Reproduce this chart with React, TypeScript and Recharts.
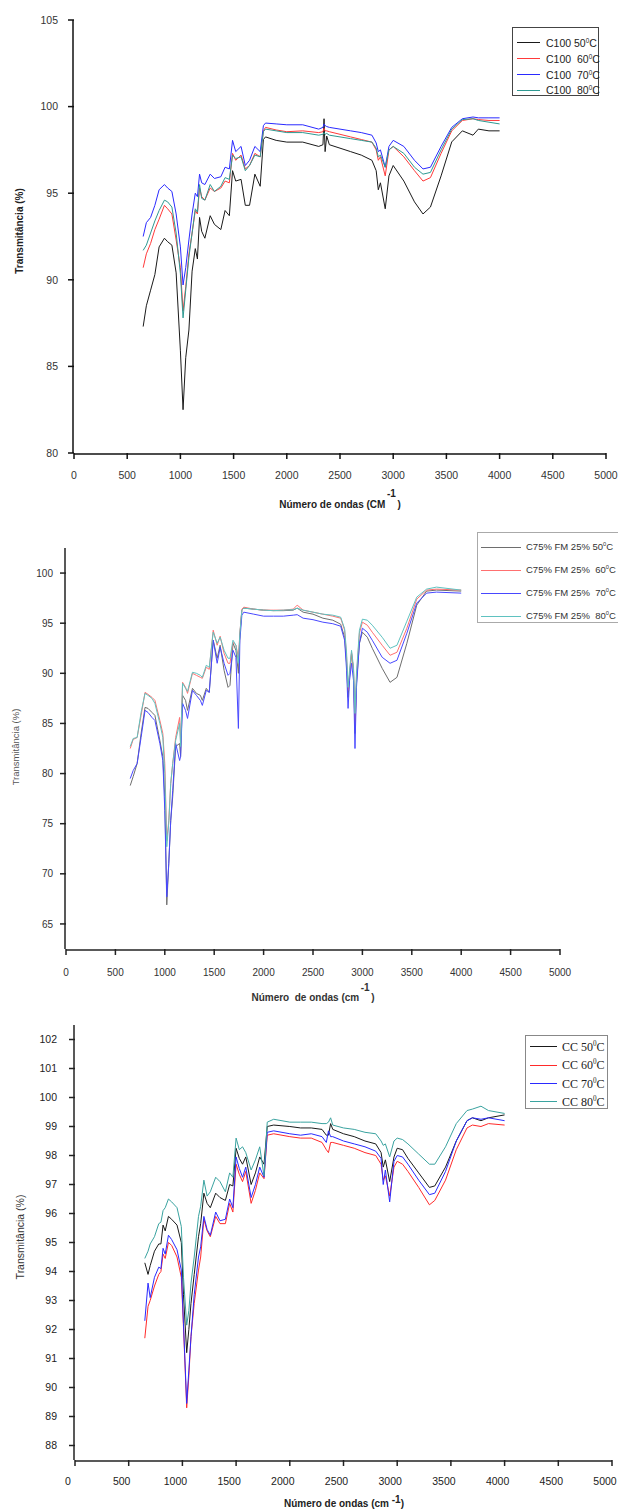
import React from 'react';
import { LineChart, Line, XAxis, YAxis, Legend } from 'recharts';

// wavenumber axis (shared by the three panels)
const xMajor = [0, 500, 1000, 1500, 2000, 2500, 3000, 3500, 4000, 4500, 5000];
const xMinor = [0, 250, 500, 750, 1000, 1250, 1500, 1750, 2000, 2250, 2500, 2750, 3000, 3250, 3500, 3750, 4000, 4250, 4500, 4750, 5000];

// ---- panel 1 : C100 ----
const y1Major = [80, 85, 90, 95, 100, 105];
const y1Minor = [80, 82.5, 85, 87.5, 90, 92.5, 95, 97.5, 100, 102.5, 105];
const c1Names = ['C100 50', 'C100  60', 'C100  70', 'C100  80'];
const c1Waves = [650, 680, 720, 760, 800, 850, 880, 920, 960, 1000, 1025, 1050, 1080, 1110, 1140, 1160, 1180, 1200, 1230, 1280, 1320, 1380, 1420, 1460, 1490, 1520, 1570, 1610, 1650, 1700, 1750, 1780, 1800, 1900, 2000, 2150, 2300, 2340, 2350, 2360, 2375, 2400, 2500, 2600, 2700, 2800, 2840, 2860, 2880, 2925, 2960, 3000, 3100, 3200, 3280, 3350, 3450, 3550, 3650, 3750, 3800, 3900, 4000];
const c1T50 = [87.3, 88.5, 89.4, 90.3, 91.9, 92.4, 92.2, 92.0, 90.4, 85.9, 82.5, 85.5, 87.1, 90.5, 91.8, 91.2, 93.6, 92.8, 92.4, 93.7, 93.2, 92.9, 94.0, 93.7, 96.3, 95.7, 95.8, 94.3, 94.3, 96.1, 95.4, 98.1, 98.25, 98.05, 97.95, 97.95, 97.7, 97.8, 99.3, 97.4, 98.3, 97.8, 97.6, 97.4, 97.2, 96.9, 96.3, 95.2, 95.6, 94.1, 96.0, 96.6, 95.7, 94.5, 93.8, 94.2, 96.0, 97.96, 98.6, 98.35, 98.7, 98.6, 98.6];
const c1T60 = [90.7, 91.5, 92.1, 92.9, 93.5, 94.3, 94.1, 93.8, 92.3, 90.7, 88.2, 89.6, 91.5, 92.7, 94.0, 93.8, 95.3, 94.8, 94.6, 95.3, 95.1, 95.3, 95.7, 95.6, 97.3, 96.9, 97.2, 96.4, 96.6, 97.3, 97.1, 98.6, 98.8, 98.65, 98.55, 98.6, 98.5, 98.55, 98.75, 98.6, 98.6, 98.55, 98.4, 98.25, 98.1, 97.95, 97.5, 96.9, 97.1, 96.0, 97.5, 97.7, 97.1, 96.3, 95.7, 95.9, 97.3, 98.6, 99.2, 99.3, 99.25, 99.2, 99.2];
const c1T70 = [92.5, 93.3, 93.6, 94.3, 95.2, 95.5, 95.3, 95.1, 93.8, 91.9, 89.7, 90.7, 92.3, 93.8, 95.0, 94.8, 96.1, 95.6, 95.5, 96.1, 95.85, 95.95, 96.5, 96.4, 98.05, 97.4, 97.7, 96.6, 96.9, 97.7, 97.4, 98.9, 99.05, 99.0, 98.95, 98.95, 98.7, 98.8, 99.0, 98.9, 98.85, 98.8, 98.7, 98.6, 98.5, 98.35, 97.9, 97.4, 97.5, 96.5, 97.7, 98.05, 97.7, 96.9, 96.4, 96.5, 97.7, 98.8, 99.3, 99.4, 99.35, 99.35, 99.35];
const c1T80 = [91.7, 92.0, 92.7, 93.4, 94.0, 94.6, 94.5, 94.2, 92.7, 90.35, 87.8, 89.4, 91.3, 92.7, 94.1, 93.9, 95.5, 94.7, 94.6, 95.5, 95.1, 95.4, 95.9, 95.8, 97.2, 97.0, 97.1, 96.3, 96.6, 97.2, 97.1, 98.55, 98.7, 98.6, 98.5, 98.5, 98.35, 98.4, 98.5, 98.4, 98.45, 98.35, 98.25, 98.15, 98.05, 97.95, 97.6, 97.1, 97.2, 96.5, 97.5, 97.7, 97.3, 96.5, 96.1, 96.2, 97.5, 98.7, 99.25, 99.3, 99.2, 99.1, 99.0];

// ---- panel 2 : C75% FM 25% ----
const y2Major = [65, 70, 75, 80, 85, 90, 95, 100];
const y2Minor = [62.5, 65, 67.5, 70, 72.5, 75, 77.5, 80, 82.5, 85, 87.5, 90, 92.5, 95, 97.5, 100, 102.5];
const c2Names = ['C75% FM 25% 50', 'C75% FM 25%  60', 'C75% FM 25%  70', 'C75% FM 25%  80'];
const c2Waves = [650, 680, 720, 760, 800, 830, 870, 900, 950, 980, 1000, 1020, 1040, 1060, 1080, 1110, 1150, 1160, 1180, 1210, 1230, 1280, 1320, 1360, 1380, 1420, 1450, 1490, 1530, 1560, 1600, 1640, 1660, 1690, 1720, 1745, 1760, 1780, 1800, 1900, 2000, 2100, 2200, 2300, 2340, 2400, 2500, 2600, 2700, 2780, 2820, 2840, 2855, 2870, 2890, 2910, 2925, 2940, 2970, 3000, 3050, 3100, 3200, 3280, 3350, 3450, 3550, 3650, 3750, 4000];
const c2T50 = [78.8, 79.7, 81.0, 84.0, 86.6, 86.5, 86.1, 85.8, 83.3, 81.7, 77.7, 66.9, 71.0, 75.3, 77.7, 82.7, 83.0, 81.7, 87.8, 87.3, 86.3, 88.5, 88.0, 87.8, 87.3, 88.5, 88.1, 93.3, 91.5, 92.8, 90.3, 88.6, 88.8, 93.0, 92.3, 90.0, 93.8, 96.3, 96.5, 96.4, 96.3, 96.25, 96.25, 96.3, 96.5, 96.1, 95.9, 95.5, 95.3, 94.9, 93.6, 91.0, 87.6, 89.6, 92.0, 90.3, 84.0, 89.0, 93.0, 94.1, 93.6, 92.5, 90.5, 89.1, 89.6, 93.0, 96.8, 98.2, 98.3, 98.2];
const c2T60 = [82.5, 83.4, 83.6, 85.8, 88.1, 87.9, 87.6, 87.3, 85.3, 84.0, 81.0, 73.3, 75.3, 79.0, 81.0, 83.6, 85.6, 83.0, 89.1, 88.6, 88.0, 90.0, 89.8, 89.6, 89.5, 90.6, 90.4, 94.3, 92.8, 93.7, 92.0, 91.0, 91.0, 93.1, 92.8, 91.6, 94.0, 96.4, 96.6, 96.4, 96.3, 96.3, 96.3, 96.4, 96.8, 96.3, 96.1, 95.9, 95.7, 95.5, 94.3, 91.6, 88.3, 89.9, 92.1, 90.3, 84.5, 89.6, 94.0, 95.1, 94.8, 94.1, 92.8, 91.8, 92.1, 94.5, 97.4, 98.3, 98.4, 98.3];
const c2T70 = [79.5, 80.3, 81.0, 83.6, 86.3, 86.1, 85.6, 85.3, 83.0, 81.3, 76.3, 67.7, 71.0, 75.3, 78.3, 83.0, 81.3, 81.7, 87.0, 86.3, 85.5, 88.3, 87.8, 87.3, 86.8, 88.3, 88.1, 93.3, 91.0, 92.6, 91.0, 89.8, 90.0, 92.3, 91.6, 84.5, 93.3, 95.8, 96.1, 95.9, 95.7, 95.7, 95.7, 95.8, 95.85, 95.5, 95.35, 95.1, 94.95, 94.7, 93.3, 90.3, 86.5, 89.3, 91.0, 89.3, 82.5, 88.6, 93.0, 94.5, 94.1, 93.3, 91.6, 91.0, 91.3, 94.0, 97.0, 98.0, 98.1, 98.0];
const c2T80 = [82.7, 83.5, 83.6, 86.1, 88.0, 87.8, 87.5, 87.0, 85.0, 83.6, 80.0, 72.7, 75.0, 79.0, 81.0, 83.3, 85.0, 82.7, 89.0, 88.5, 88.2, 90.1, 90.0, 89.8, 89.6, 90.8, 90.6, 94.1, 93.0, 93.6, 92.3, 91.5, 91.5, 93.3, 92.8, 91.0, 94.0, 96.3, 96.5, 96.4, 96.3, 96.25, 96.3, 96.35, 96.5, 96.3, 96.1, 95.9, 95.8, 95.6, 94.45, 92.0, 88.6, 90.3, 92.3, 90.6, 86.0, 90.0, 94.3, 95.4, 95.3, 94.8, 93.6, 92.5, 92.8, 95.2, 97.6, 98.4, 98.6, 98.3];

// ---- panel 3 : CC ----
const y3Major = [88, 89, 90, 91, 92, 93, 94, 95, 96, 97, 98, 99, 100, 101, 102];
const y3Minor = [87.5, 88, 88.5, 89, 89.5, 90, 90.5, 91, 91.5, 92, 92.5, 93, 93.5, 94, 94.5, 95, 95.5, 96, 96.5, 97, 97.5, 98, 98.5, 99, 99.5, 100, 100.5, 101, 101.5, 102, 102.5];
const c3Names = ['CC 50', 'CC 60', 'CC 70', 'CC 80'];
const c3Waves = [650, 680, 700, 740, 780, 800, 820, 840, 870, 900, 950, 990, 1010, 1040, 1060, 1080, 1110, 1150, 1170, 1200, 1230, 1260, 1310, 1350, 1400, 1440, 1470, 1500, 1530, 1560, 1590, 1640, 1680, 1720, 1760, 1790, 1850, 2000, 2100, 2200, 2300, 2340, 2360, 2380, 2400, 2500, 2600, 2700, 2800, 2850, 2870, 2890, 2930, 2970, 3000, 3050, 3100, 3200, 3300, 3350, 3450, 3550, 3650, 3700, 3780, 3850, 4000];
const c3T50 = [94.3, 93.9, 94.2, 94.7, 94.95, 94.95, 95.6, 95.4, 95.9, 95.8, 95.6, 95.0, 93.2, 91.2, 92.0, 92.9, 93.9, 95.2, 95.65, 96.7, 96.35, 96.2, 96.7, 96.55, 96.45, 97.0, 96.95, 98.25, 97.9, 97.7, 97.95, 97.0, 97.4, 97.95, 97.7, 99.0, 99.05, 99.0, 98.95, 98.95, 98.9, 98.7, 98.7, 99.1, 98.9, 98.75, 98.65, 98.5, 98.4, 98.1, 97.6, 97.85, 97.1, 97.95, 98.25, 98.2, 97.9, 97.4, 96.9, 96.95, 97.6, 98.5, 99.2, 99.3, 99.2, 99.3, 99.4];
const c3T60 = [91.7, 92.8, 93.0, 93.5, 93.9, 94.0, 94.6, 94.45, 95.0, 94.9, 94.5, 93.8, 92.1, 89.3, 90.4, 91.75, 92.9, 94.05, 94.5, 95.8, 95.4, 95.2, 95.9, 95.65, 95.65, 96.35, 96.05, 97.7, 97.35, 97.1, 97.45, 96.35, 96.8, 97.4, 97.2, 98.7, 98.75, 98.65, 98.6, 98.6, 98.45, 98.2, 98.1, 98.45, 98.45, 98.35, 98.25, 98.1, 98.0, 97.7, 97.15, 97.3, 96.6, 97.6, 97.8, 97.7, 97.45, 96.9, 96.3, 96.45, 97.15, 98.2, 98.95, 99.05, 99.0, 99.1, 99.05];
const c3T70 = [92.3, 93.6, 93.1, 93.8, 94.15, 94.1, 94.8, 94.6, 95.25, 95.1, 94.75, 94.05, 92.2, 89.45, 90.6, 91.75, 93.2, 94.5, 94.85, 95.9, 95.45, 95.25, 96.05, 95.75, 95.8, 96.5, 96.2, 97.95, 97.55, 97.25, 97.6, 96.55, 97.0, 97.6, 97.25, 98.8, 98.85, 98.75, 98.7, 98.75, 98.65, 98.45, 98.85, 98.65, 98.65, 98.5, 98.4, 98.3, 98.15, 97.9, 97.0, 97.5, 96.4, 97.8, 98.0, 97.95, 97.7, 97.15, 96.65, 96.7, 97.45, 98.5, 99.2, 99.3, 99.25, 99.3, 99.2];
const c3T80 = [94.45, 94.7, 94.95, 95.2, 95.65, 95.7, 96.1, 96.2, 96.5, 96.4, 96.2, 95.55, 93.8, 92.15, 92.65, 93.6, 94.5, 95.9, 96.25, 97.15, 96.6, 96.75, 97.25, 97.1, 96.75, 97.4, 97.25, 98.6, 98.2, 98.3, 98.1, 97.5, 97.85, 98.3, 97.3, 99.15, 99.25, 99.15, 99.15, 99.15, 99.1, 99.1, 99.15, 99.3, 99.05, 98.95, 98.9, 98.8, 98.75, 98.5, 98.35, 98.4, 97.95, 98.5, 98.6, 98.55, 98.4, 98.05, 97.7, 97.7, 98.3, 99.1, 99.55, 99.6, 99.7, 99.55, 99.45];

const SANS = '"Liberation Sans", Arial, sans-serif';
const SERIF = '"Liberation Serif", "Times New Roman", serif';

type Series = { name: string; color: string; values: number[] };

type LegendCfg = {
  left: number; top: number; width: number; height: number;
  padTop: number; rowH: number; lineLeft: number; lineW: number; textLeft: number;
  font: string; fontSize: number; textColor: string; border: string;
};

function LegendBox({ series, cfg }: { series: Series[]; cfg: LegendCfg }) {
  return (
    <div style={{ position: 'relative', width: cfg.width, height: cfg.height, border: cfg.border, boxSizing: 'border-box', background: '#fff' }}>
      {series.map((s, i) => {
        const cy = cfg.padTop + cfg.rowH * (i + 0.5);
        return (
          <React.Fragment key={i}>
            <div style={{ position: 'absolute', left: cfg.lineLeft, top: cy - 0.5, width: cfg.lineW, height: 0, borderTop: `1.2px solid ${s.color}` }} />
            <div style={{ position: 'absolute', left: cfg.textLeft, top: cy - 7, lineHeight: '14px', fontFamily: cfg.font, fontSize: cfg.fontSize, color: cfg.textColor, whiteSpace: 'pre' }}>
              {s.name}<sup style={{ fontSize: '0.6em', lineHeight: 0 }}>0</sup>C
            </div>
          </React.Fragment>
        );
      })}
    </div>
  );
}

type PanelProps = {
  top: number; height: number;
  margin: { top: number; right: number; bottom: number; left: number };
  waves: number[]; series: Series[];
  yDomain: [number, number]; yMajor: number[]; yMinor: number[];
  axisColor: string; labelColor: string; labelSize: number;
  xMargin: number; yMargin: number; xShift: number;
  legend: LegendCfg;
};

function Panel(p: PanelProps) {
  const data = p.waves.map((w, i) => {
    const row: Record<string, number> = { w };
    p.series.forEach((s, k) => { row['s' + k] = s.values[i]; });
    return row;
  });
  const xTick = (t: any) => (
    <text x={t.x + p.xShift} y={t.y} dy="0.71em" textAnchor="middle" fontSize={p.labelSize} fontFamily={SANS} fill={p.labelColor}>
      {t.payload.value}
    </text>
  );
  const yTick = (t: any) => (
    <text x={t.x} y={t.y} dy="0.36em" textAnchor="end" fontSize={p.labelSize} fontFamily={SANS} fill={p.labelColor}>
      {t.payload.value}
    </text>
  );
  const axisStroke = { stroke: p.axisColor, strokeWidth: 1.5 };
  return (
    <div style={{ position: 'absolute', left: 0, top: p.top }}>
      <LineChart width={618} height={p.height} data={data} margin={p.margin}>
        <XAxis xAxisId="minor" dataKey="w" type="number" domain={[0, 5000]} ticks={xMinor} interval={0}
          height={1} tick={false} tickSize={4} axisLine={axisStroke} tickLine={axisStroke} />
        <XAxis xAxisId="major" dataKey="w" type="number" domain={[0, 5000]} ticks={xMajor} interval={0}
          height={1} tick={xTick} tickSize={6} tickMargin={p.xMargin} axisLine={false} tickLine={axisStroke} />
        <YAxis yAxisId="minor" type="number" domain={p.yDomain} ticks={p.yMinor} interval={0} allowDataOverflow
          width={1} tick={false} tickSize={4} axisLine={axisStroke} tickLine={axisStroke} />
        <YAxis yAxisId="major" type="number" domain={p.yDomain} ticks={p.yMajor} interval={0} allowDataOverflow
          width={1} tick={yTick} tickSize={6} tickMargin={p.yMargin} axisLine={false} tickLine={axisStroke} />
        {p.series.map((s, k) => (
          <Line key={k} xAxisId="major" yAxisId="major" type="linear" dataKey={'s' + k} name={s.name}
            stroke={s.color} strokeWidth={1} dot={false} activeDot={false} isAnimationActive={false} />
        ))}
        <Legend layout="vertical" align="center" verticalAlign="middle"
          wrapperStyle={{ left: p.legend.left, top: p.legend.top, width: p.legend.width, height: p.legend.height }}
          content={() => <LegendBox series={p.series} cfg={p.legend} />} />
      </LineChart>
    </div>
  );
}

const abs = (s: React.CSSProperties): React.CSSProperties => ({ position: 'absolute', whiteSpace: 'nowrap', ...s });

export default function App() {
  const s1: Series[] = [
    { name: c1Names[0], color: '#1a1a1a', values: c1T50 },
    { name: c1Names[1], color: '#ff3a3a', values: c1T60 },
    { name: c1Names[2], color: '#2a2aff', values: c1T70 },
    { name: c1Names[3], color: '#2e9a92', values: c1T80 },
  ];
  const s2: Series[] = [
    { name: c2Names[0], color: '#6e6e6e', values: c2T50 },
    { name: c2Names[1], color: '#ff7070', values: c2T60 },
    { name: c2Names[2], color: '#4848ff', values: c2T70 },
    { name: c2Names[3], color: '#5fc2c0', values: c2T80 },
  ];
  const s3: Series[] = [
    { name: c3Names[0], color: '#1a1a1a', values: c3T50 },
    { name: c3Names[1], color: '#ff2a2a', values: c3T60 },
    { name: c3Names[2], color: '#2a2aff', values: c3T70 },
    { name: c3Names[3], color: '#3aa3a0', values: c3T80 },
  ];

  return (
    <div style={{ position: 'absolute', left: 0, top: 0, width: 618, height: 1511, overflow: 'hidden', background: '#fff', fontFamily: SANS }}>
      <Panel top={0} height={520} margin={{ top: 20, right: 12, bottom: 65, left: 72 }}
        waves={c1Waves} series={s1} yDomain={[80, 105]} yMajor={y1Major} yMinor={y1Minor}
        axisColor="#111" labelColor="#333" labelSize={10.5} xMargin={13} yMargin={10} xShift={0}
        legend={{ left: 512, top: 27, width: 87, height: 69, padTop: 7, rowH: 15.8, lineLeft: 4, lineW: 23, textLeft: 33,
          font: SANS, fontSize: 10.5, textColor: '#222', border: '1px solid #444' }} />
      <Panel top={520} height={490} margin={{ top: 28, right: 58, bottom: 59, left: 64 }}
        waves={c2Waves} series={s2} yDomain={[62.5, 102.5]} yMajor={y2Major} yMinor={y2Minor}
        axisColor="#222" labelColor="#333" labelSize={10} xMargin={14} yMargin={7} xShift={0}
        legend={{ left: 477, top: 12, width: 170, height: 91, padTop: 2.5, rowH: 23, lineLeft: 3, lineW: 40, textLeft: 48,
          font: SANS, fontSize: 9.5, textColor: '#333', border: '1px solid #aaa' }} />
      <Panel top={1010} height={501} margin={{ top: 15, right: 6, bottom: 49, left: 73 }}
        waves={c3Waves} series={s3} yDomain={[87.5, 102.5]} yMajor={y3Major} yMinor={y3Minor}
        axisColor="#222" labelColor="#222" labelSize={10.5} xMargin={12} yMargin={12} xShift={-7}
        legend={{ left: 525, top: 25, width: 83, height: 74, padTop: 1.8, rowH: 18.3, lineLeft: 4, lineW: 27, textLeft: 36,
          font: SERIF, fontSize: 12, textColor: '#222', border: '1.5px solid #888' }} />

      {/* axis titles */}
      <div style={abs({ left: 19, top: 231, transform: 'translate(-50%, -50%) rotate(-90deg)', fontSize: 10, fontWeight: 'bold', color: '#222' })}>Transmitância (%)</div>
      <div style={abs({ left: 340, top: 504, transform: 'translate(-50%, -50%)', fontSize: 10, fontWeight: 'bold', color: '#222' })}>
        Número de ondas (CM<span style={{ display: 'inline-block', width: 12, position: 'relative', top: -11, textAlign: 'center' }}>-1</span>)
      </div>

      <div style={abs({ left: 15, top: 747, transform: 'translate(-50%, -50%) rotate(-90deg)', fontSize: 9.5, color: '#555' })}>Transmitância (%)</div>
      <div style={abs({ left: 313, top: 997, transform: 'translate(-50%, -50%)', fontSize: 10, fontWeight: 'bold', color: '#333', whiteSpace: 'pre' })}>
        Número  de ondas (cm<span style={{ display: 'inline-block', width: 12, position: 'relative', top: -10, textAlign: 'center' }}>-1</span>)
      </div>

      <div style={abs({ left: 20, top: 1237, transform: 'translate(-50%, -50%) rotate(-90deg)', fontSize: 10.5, color: '#333' })}>Transmitância (%)</div>
      <div style={abs({ left: 344, top: 1503, transform: 'translate(-50%, -50%)', fontSize: 10, fontWeight: 'bold', color: '#222' })}>
        Número de ondas (cm <span style={{ position: 'relative', top: -4 }}>-1</span>)
      </div>
    </div>
  );
}
